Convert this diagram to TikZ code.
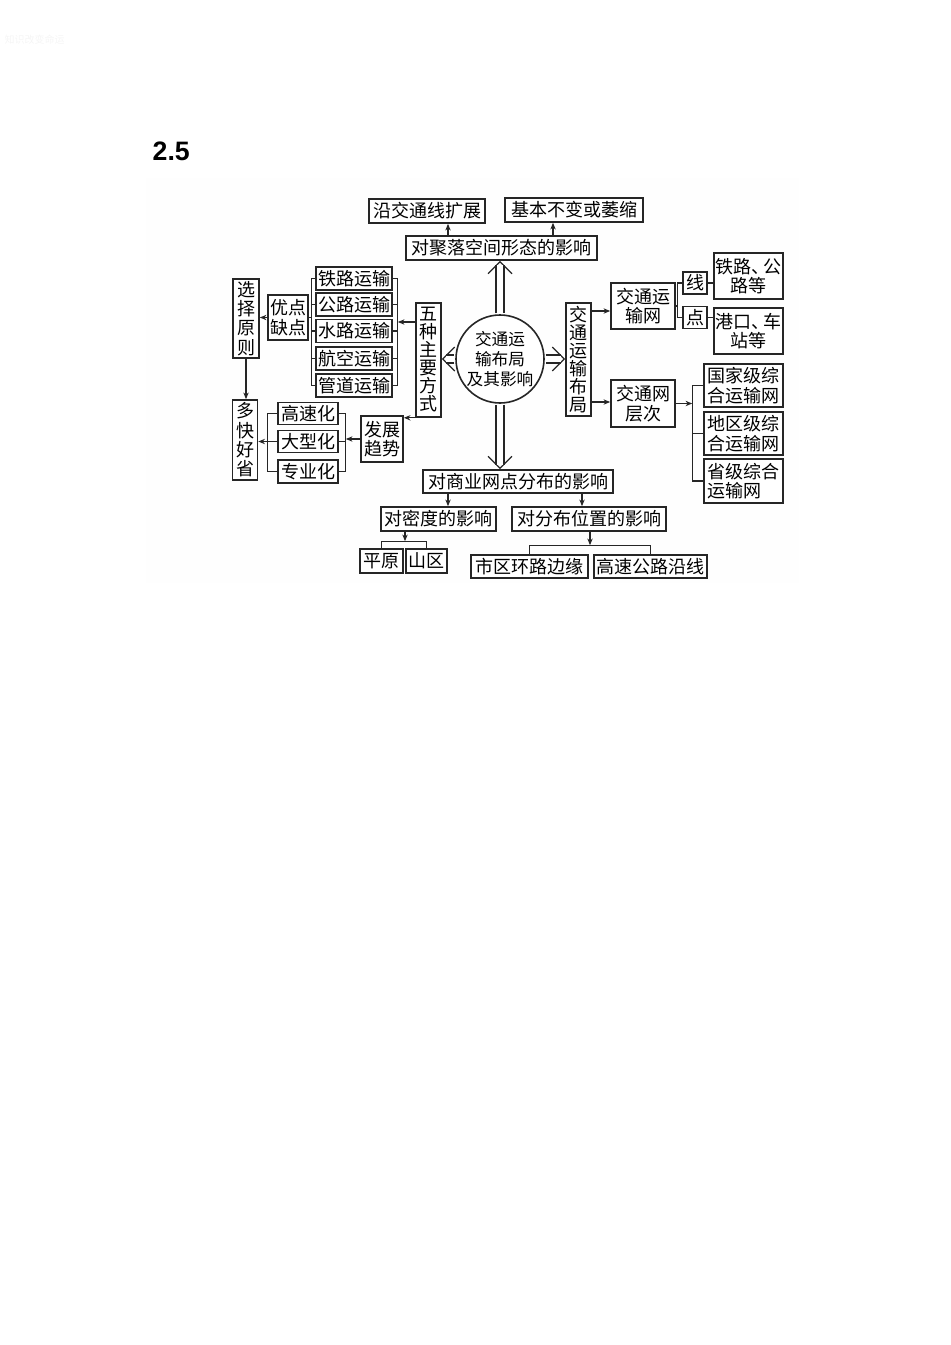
\documentclass[tikz,border=0pt]{standalone}
\usepackage{fontspec}
\setmainfont{Liberation Sans}
\newfontfamily\cjk{Noto Sans CJK SC}
\usetikzlibrary{arrows.meta}
\newlength\pxu
\setlength\pxu{0.75pt}
\tikzset{
  box/.style={draw=black!85, line width=1.2pt, fill=white, inner sep=0pt, align=center,
    font=\cjk\fontsize{13.5}{14.5}\selectfont},
  vbox/.style={box, font=\cjk\fontsize{13.5}{13.5}\selectfont},
  sz/.style 2 args={minimum width=#1\pxu, minimum height=#2\pxu},
  ln/.style={draw=black!85, line width=0.9pt},
  arr/.style={ln, -{Stealth[length=5pt,width=4pt]}},
  dbl/.style={draw=none,
    postaction={draw=white, line width=0.8pt, shorten <=0.6pt,
      -{Straight Barb[color=black!85, line width=1pt, length=9pt, width=18pt]}},
    postaction={draw=black!85, line width=1pt, double=white, double distance=5pt,
      shorten <=0.6pt, shorten >=3pt}}
}
\begin{document}
\begin{tikzpicture}[x=\pxu, y=-\pxu]
  \useasboundingbox (0,0) rectangle (950,1345);
  \fill[black!0.4] (146,178) rectangle (799,583);
  \node[text=black!4, anchor=west, font=\cjk\fontsize{7.5}{8}\selectfont] (mark) at (0,40) {知识改变命运};
  \node[anchor=west, font=\bfseries\fontsize{20}{22}\selectfont] (num) at (148,151) {2.5};

  \node[box, sz={116}{24}] (along) at (427,211) {沿交通线扩展};
  \node[box, sz={138}{24}] (shrink) at (574,210) {基本不变或萎缩};
  \node[box, sz={191}{24}] (settle) at (501.5,248) {对聚落空间形态的影响};
  \node[draw=black!85, line width=1.2pt, circle, fill=white, inner sep=0pt, minimum size=88\pxu,
    align=center, font=\cjk\fontsize{12.5}{15}\selectfont] (hub) at (500,359) {交通运\\输布局\\及其影响};

  \node[vbox, sz={25}{114}] (modes) at (428.5,360) {五\\种\\主\\要\\方\\式};
  \node[box, sz={76}{23}] (rail) at (354,278.5) {铁路运输};
  \node[box, sz={76}{23}] (road) at (354,304.5) {公路运输};
  \node[box, sz={76}{23}] (water) at (354,331) {水路运输};
  \node[box, sz={76}{23}] (air) at (354,358.5) {航空运输};
  \node[box, sz={76}{23}] (pipe) at (354,385.5) {管道运输};
  \node[box, sz={40}{45}] (pros) at (288,317.5) {优点\\缺点};
  \node[box, sz={26}{79}] (choose) at (246,318.5) {选\\择\\原\\则};
  \node[box, sz={25}{80}] (goal) at (245,440) {多\\快\\好\\省};
  \node[box, sz={42}{46}] (trend) at (382,439) {发展\\趋势};
  \node[box, sz={60}{22}] (fast) at (308,413.5) {高速化};
  \node[box, sz={60}{22}] (large) at (308,441.5) {大型化};
  \node[box, sz={60}{23}] (spec) at (308,471.5) {专业化};

  \node[vbox, sz={25}{113}] (layout) at (578.5,359.5) {交\\通\\运\\输\\布\\局};
  \node[box, sz={64}{46}] (net) at (643,306) {交通运\\输网};
  \node[box, sz={24}{22}] (lin) at (695,283) {线};
  \node[box, sz={24}{22}] (pt) at (695,317.5) {点};
  \node[box, sz={69}{46}] (railroad) at (748.5,276) {铁路、\kern-5pt公\\路等};
  \node[box, sz={69}{46}] (station) at (748.5,331) {港口、\kern-5pt车\\站等};
  \node[box, sz={64}{47}] (tier) at (643,403.5) {交通网\\层次};
  \node[box, sz={79}{43}] (nation) at (743.5,385.5) {国家级综\\合运输网};
  \node[box, sz={79}{43}] (region) at (743.5,433.5) {地区级综\\合运输网};
  \node[box, sz={79}{44}, align=left] (prov) at (743.5,481) {省级综合\\运输网};

  \node[box, sz={190}{23}] (comm) at (518,481.5) {对商业网点分布的影响};
  \node[box, sz={115}{24}] (dens) at (438.5,519) {对密度的影响};
  \node[box, sz={154}{24}] (pos) at (589,519) {对分布位置的影响};
  \node[box, sz={43}{24}] (plain) at (381.5,561) {平原};
  \node[box, sz={41}{24}] (mount) at (426.5,561) {山区};
  \node[box, sz={117}{23}] (ring) at (529.5,566.5) {市区环路边缘};
  \node[box, sz={113}{23}] (hwy) at (650.5,566.5) {高速公路沿线};

  \draw[arr] ([xshift=-53.5\pxu]settle.north) coordinate (a1) -- (a1 |- along.south);
  \draw[arr] ([xshift=51.5\pxu]settle.north) coordinate (a2) -- (a2 |- shrink.south);

  \draw[dbl] (hub.north) -- (hub.north |- settle.south);
  \draw[dbl] (hub.south) -- (hub.south |- comm.north);
  \draw[dbl] (hub.west) -- (hub.west -| modes.east);
  \draw[dbl] (hub.east) -- (hub.east -| layout.west);

  \coordinate (rb) at ([xshift=5\pxu]pipe.east);
  \coordinate (lb) at ([xshift=-4\pxu]pipe.west);
  \draw[ln] (rail.east) -| (rb) -- (pipe.east);
  \draw[ln] (rail.west) -| (lb) -- (pipe.west);
  \foreach \n in {road,water,air} {
    \draw[ln] (\n.east) -- (\n.east -| rb);
    \draw[ln] (\n.west) -- (\n.west -| lb);
  }
  \draw[arr] ([yshift=38\pxu]modes.west) coordinate (b1) -- (b1 -| rb);
  \draw[ln] (pros.east) -- (pros.east -| lb);
  \draw[arr] (pros.west) -- (pros.west -| choose.east);
  \draw[arr] (choose.south) -- (choose.south |- goal.north);
  \draw[arr] (modes.south west) -- (modes.south west -| trend.east);

  \coordinate (fr) at ([xshift=7\pxu]spec.east);
  \coordinate (fl) at ([xshift=-10\pxu]spec.west);
  \draw[ln] (fast.east) -| (fr) -- (spec.east);
  \draw[ln] (fast.west) -| (fl) -- (spec.west);
  \draw[ln] (large.east) -- (large.east -| fr);
  \draw[ln] (large.west) -- (large.west -| fl);
  \draw[arr] (trend.west) -- (trend.west -| fr);
  \draw[arr] (large.west -| fl) -- (goal.east |- large.west);

  \draw[arr] ([yshift=48.5\pxu]layout.east) coordinate (c1) -- (c1 -| net.west);
  \draw[arr] ([yshift=-42.5\pxu]layout.east) coordinate (c2) -- (c2 -| tier.west);
  \coordinate (nb) at ([xshift=-5\pxu]pt.west);
  \draw[ln] (lin.west) -| (nb) -- (pt.west);
  \draw[ln] (net.east) -- (net.east -| nb);
  \draw[ln] (lin.east) -- (lin.east -| railroad.west);
  \draw[ln] (pt.east) -- (pt.east -| station.west);
  \coordinate (tb) at ([xshift=-11\pxu]prov.west);
  \draw[ln] (nation.west) -| (tb) -- (prov.west);
  \draw[ln] (region.west) -- (region.west -| tb);
  \draw[arr] (tier.east) -- (tier.east -| tb);

  \draw[arr] ([xshift=-70\pxu]comm.south) coordinate (d1) -- (d1 |- dens.north);
  \draw[arr] ([xshift=64\pxu]comm.south) coordinate (d2) -- (d2 |- pos.north);
  \coordinate (pb) at ([yshift=7\pxu]plain.north);
  \draw[ln] (plain.north) -- (pb) -| (mount.north);
  \draw[arr] ([xshift=-33.5\pxu]dens.south) coordinate (e1) -- (e1 |- pb);
  \coordinate (qb) at ([yshift=9\pxu]ring.north);
  \draw[ln] (ring.north) -- (qb) -| (hwy.north);
  \draw[arr] ([xshift=1\pxu]pos.south) coordinate (e2) -- (e2 |- qb);
\end{tikzpicture}
\end{document}
